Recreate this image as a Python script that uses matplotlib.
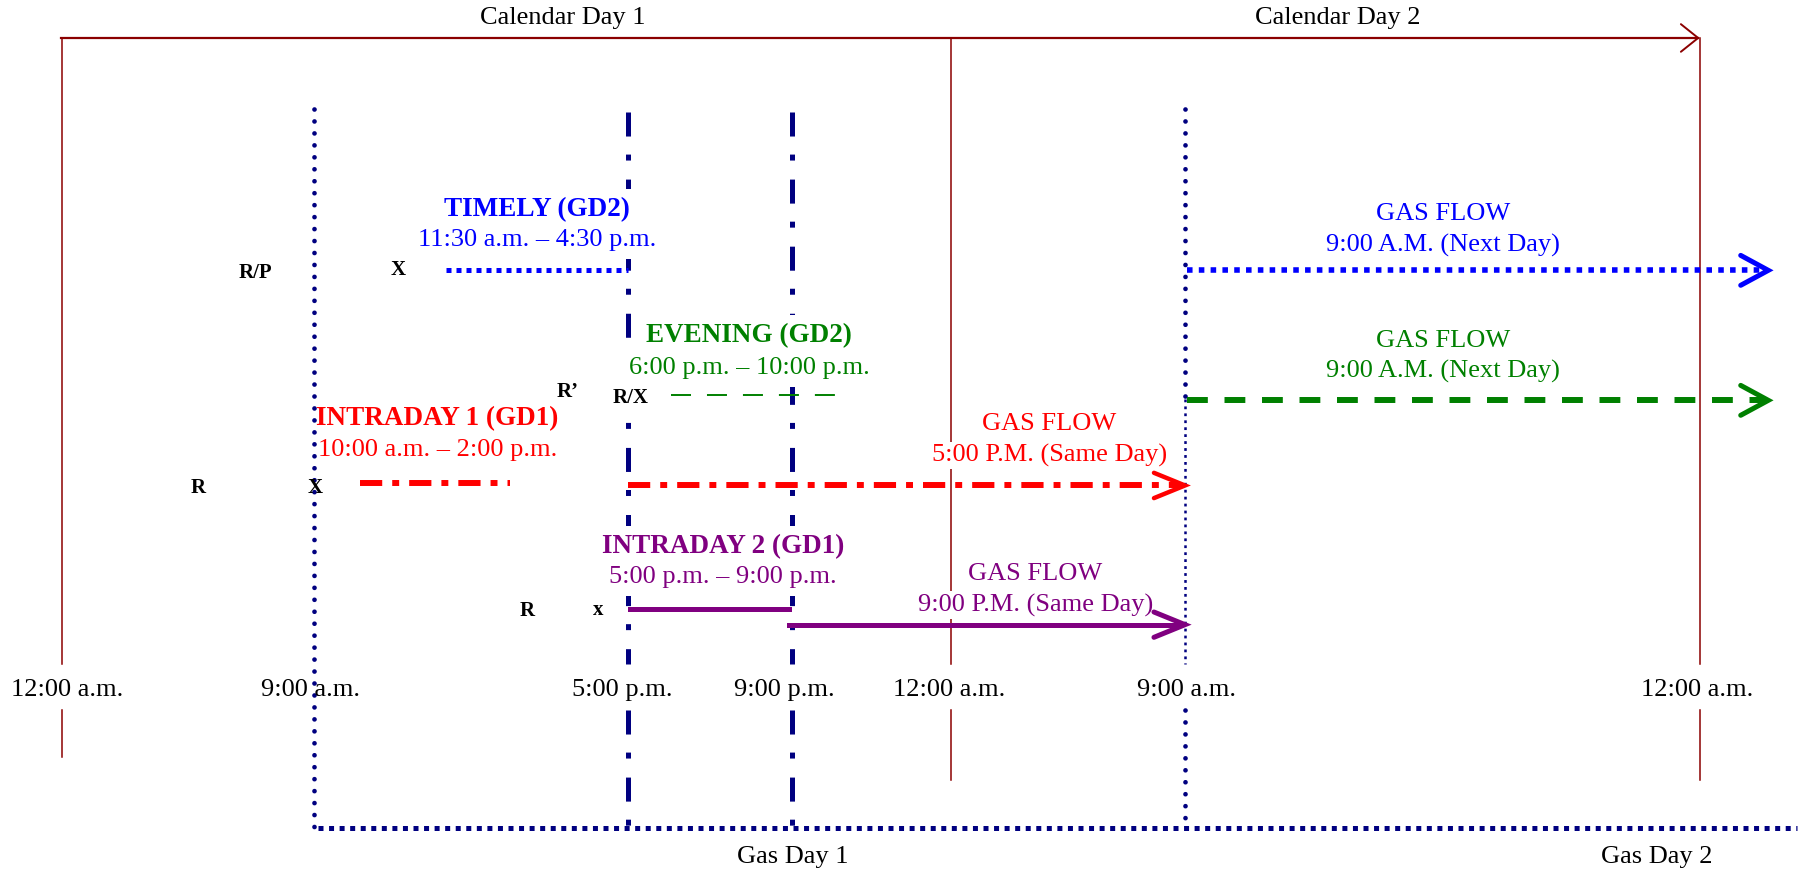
import matplotlib
matplotlib.use("Agg")
import matplotlib.pyplot as plt

plt.rcParams['font.family'] = ['Liberation Serif', 'DejaVu Serif']
plt.rcParams['lines.scale_dashes'] = False

# ---------------- data ----------------
calendar_labels = ["Calendar Day 1", "Calendar Day 2"]
gas_day_labels = ["Gas Day 1", "Gas Day 2"]
time_labels = ["12:00 a.m.", "9:00 a.m.", "5:00 p.m.", "9:00 p.m.",
               "12:00 a.m.", "9:00 a.m.", "12:00 a.m."]
cycle_names = ["TIMELY (GD2)", "EVENING (GD2)", "INTRADAY 1 (GD1)", "INTRADAY 2 (GD1)"]
cycle_windows = ["11:30 a.m. \u2013 4:30 p.m.", "6:00 p.m. \u2013 10:00 p.m.",
                 "10:00 a.m. \u2013 2:00 p.m.", "5:00 p.m. \u2013 9:00 p.m."]
flow_labels = ["9:00 A.M. (Next Day)", "9:00 A.M. (Next Day)",
               "5:00 P.M. (Same Day)", "9:00 P.M. (Same Day)"]
cycle_marks = [["R/P", "X"], ["R\u2019", "R/X"], ["R", "X"], ["R", "x"]]
cycle_colors = ["#0000FF", "#008000", "#FF0000", "#800080"]

# ---------------- layout (schematic positions) ----------------
tick_label_x = [58, 270, 541, 682, 825, 1031, 1475]
LABEL_Y = 600
GAP = (577, 617)

DARKRED = "#8B0000"
NAVY = "#000080"

fig = plt.figure(figsize=(18.04, 8.72), dpi=100)
ax = fig.add_axes([0, 0, 1, 1])
ax.set_xlim(0, 1568)
ax.set_ylim(758, 0)
ax.axis('off')

FS = 19
white = dict(boxstyle='square,pad=0.08', fc='white', ec='none')
white_big = dict(boxstyle='square,pad=0.3', fc='white', ec='none')


def chevron(x, y, length, half, color, lw, z=5):
    ax.plot([x - length, x, x - length], [y - half, y, y + half], color=color,
            lw=lw, solid_capstyle='round', solid_joinstyle='miter', zorder=z)


# ---- calendar frame ----
ax.plot([53, 1476], [33, 33], color=DARKRED, lw=1.6, zorder=1)
chevron(1476, 33, 15, 12, DARKRED, 1.4)
ax.text(489, 16, calendar_labels[0], fontsize=FS, ha='center', va='center')
ax.text(1163, 16, calendar_labels[1], fontsize=FS, ha='center', va='center')
for x, bottom in [(54, 658), (827, 678), (1478, 678)]:
    ax.plot([x, x], [33, GAP[0]], color=DARKRED, lw=1.1, zorder=1)
    ax.plot([x, x], [GAP[1], bottom], color=DARKRED, lw=1.1, zorder=1)

# ---- gas day frame (navy) ----
dots = dict(color=NAVY, lw=3.4, linestyle=(0, (0.01, 8.6)), dash_capstyle='round', zorder=1)
ax.plot([273, 273], [95, 720], **dots)
ax.plot([1030, 1030], [95, 347], **dots)
ax.plot([1030, 1030], [347, GAP[0]], color=NAVY, lw=1.8,
        linestyle=(0, (2.0, 3.0)), zorder=1)
ax.plot([1030, 1030], [GAP[1], 720], **dots)
dashdot = dict(color=NAVY, lw=3.6, linestyle=(0, (17.3, 13, 4.3, 13.7)),
               dash_capstyle='butt', zorder=1)
for x in (546, 688):
    ax.plot([x, x], [97, GAP[0]], **dashdot)
    ax.plot([x, x], [GAP[1], 720], **dashdot)
ax.plot([276, 1562], [720, 720], color=NAVY, lw=3.6,
        linestyle=(0, (3.6, 4.0)), dash_capstyle='butt', zorder=1)
ax.text(689, 745, gas_day_labels[0], fontsize=FS, ha='center', va='center')
ax.text(1440, 745, gas_day_labels[1], fontsize=FS, ha='center', va='center')

# ---- time labels ----
for i, (lab, lx) in enumerate(zip(time_labels, tick_label_x)):
    if i == 1:
        ax.text(lx, LABEL_Y, lab, fontsize=FS, ha='center', va='center', zorder=4)
    else:
        ax.text(lx, LABEL_Y, lab, fontsize=FS, ha='center', va='center', zorder=2, bbox=white)

# ---- cycle headers ----
name_pos = [(467, 182), (651, 292), (380, 364), (629, 475)]
win_pos = [(467, 209), (651, 320), (380, 391), (628, 502)]
for i in range(4):
    c = cycle_colors[i]
    bb = white_big if i != 2 else None
    ax.text(*name_pos[i], cycle_names[i], fontsize=19.5, fontweight='bold', color=c,
            ha='center', va='center', zorder=2, bbox=bb)
    ax.text(*win_pos[i], cycle_windows[i], fontsize=FS, color=c,
            ha='center', va='center', zorder=2, bbox=bb)

# ---- R / X marks ----
mark_pos = [[(222, 237), (346, 235)], [(493, 341), (548, 346)],
            [(172, 424), (274, 424)], [(458, 531), (520, 530)]]
for marks, poss in zip(cycle_marks, mark_pos):
    for m, p in zip(marks, poss):
        ax.text(*p, m, fontsize=15, fontweight='bold', ha='center', va='center',
                zorder=4, bbox=white if m == "R/X" else None)

# ---- nomination windows (lines) ----
ax.plot([388, 546], [235, 235], color=cycle_colors[0], lw=3.6,
        linestyle=(0, (3.6, 3.6)), zorder=3)
ax.plot([583, 727], [343, 343], color=cycle_colors[1], lw=1.4,
        linestyle=(0, (14.4, 11.5)), zorder=3)
red_dd = (0, (16, 7.2, 5, 7.2))
ax.plot([313, 443], [420, 420], color=cycle_colors[2], lw=4.3, linestyle=red_dd, zorder=3)
ax.plot([548, 686], [529, 529], color=cycle_colors[3], lw=3.6, zorder=3)

# ---- gas flow arrows ----
ax.plot([1032, 1533], [235, 235], color=cycle_colors[0], lw=4.0,
        linestyle=(0, (4.0, 4.5)), zorder=3)
chevron(1537, 235, 24, 13, cycle_colors[0], 3.6)
ax.plot([1032, 1533], [348, 348], color=cycle_colors[1], lw=4.3,
        linestyle=(0, (15, 12)), zorder=3)
chevron(1537, 348, 24, 13, cycle_colors[1], 3.6)
ax.plot([546, 1026], [422, 422], color=cycle_colors[2], lw=4.3, linestyle=red_dd, zorder=3)
chevron(1030, 422, 27, 11, cycle_colors[2], 3.2)
ax.plot([686, 1026], [543, 543], color=cycle_colors[3], lw=3.6, zorder=3)
chevron(1030, 543, 27, 11, cycle_colors[3], 3.6)

flow_pos = [(1254, 186), (1254, 296), (912, 369), (900, 499)]
for i in range(4):
    x, y = flow_pos[i]
    c = cycle_colors[i]
    ax.text(x, y, "GAS FLOW", fontsize=FS, color=c, ha='center', va='center', zorder=2, bbox=white)
    ax.text(x, y + 27, flow_labels[i], fontsize=FS, color=c, ha='center', va='center',
            zorder=2, bbox=white)

fig.savefig("out.png", dpi=100)
